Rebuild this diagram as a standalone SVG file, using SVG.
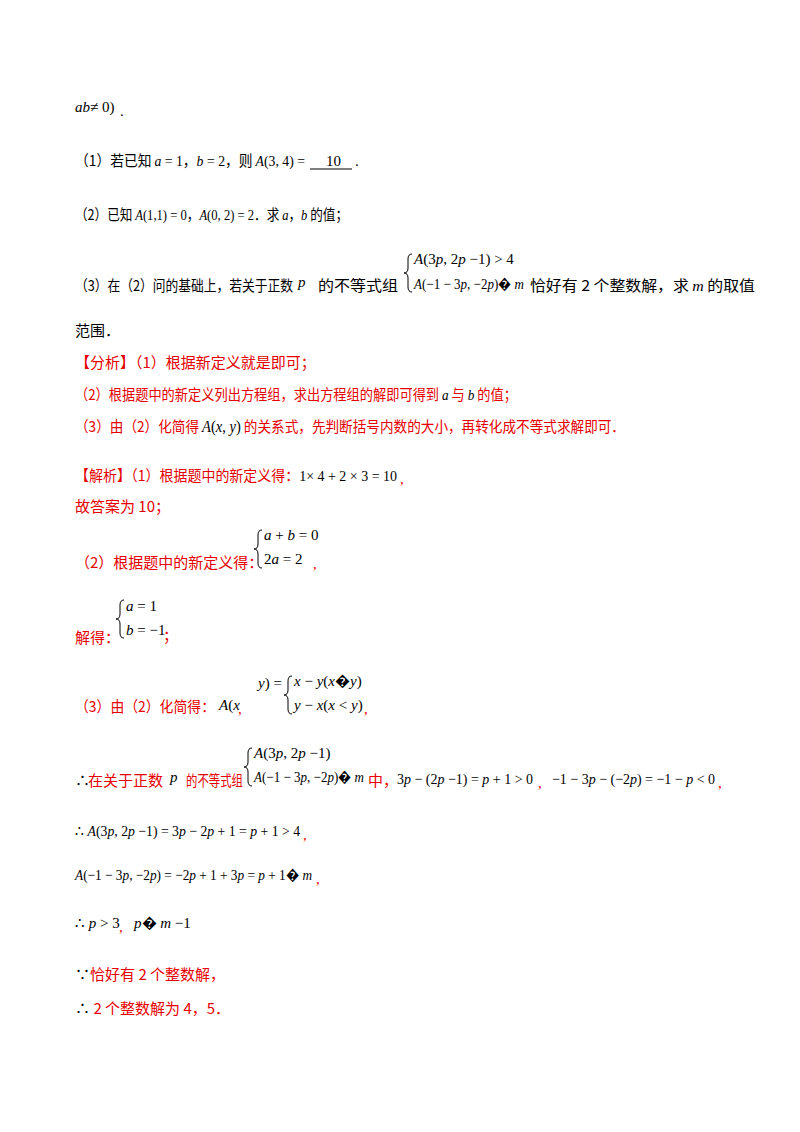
<svg xmlns="http://www.w3.org/2000/svg" width="800" height="1132" viewBox="0 0 800 1132">
<style>
text{font-family:"Liberation Serif","Noto Sans CJK SC",serif;font-size:15px;fill:#000}
.c{font-family:"Noto Sans CJK SC","Liberation Serif",sans-serif;font-size:15px}
.r{fill:#e60000}
.m{font-family:"Liberation Serif",serif;font-style:italic;font-size:15px}
.n{font-style:normal}
.k{fill:#000}
</style>
<defs>
<path id="br" d="M4 0 q-4 0 -4 5 v9 q0 5 -4 5 q4 0 4 5 v9 q0 5 4 5" fill="none" stroke="#000"/>
</defs>
<rect width="800" height="1132" fill="#fff"/>
<text x="75" y="112" class="m">ab<tspan class="n">≠ 0)</tspan></text><text x="120" y="116">.</text>

<text x="75" y="166" class="c" textLength="230" lengthAdjust="spacingAndGlyphs">（1）若已知 <tspan class="m">a</tspan><tspan class="m n"> = 1</tspan>，<tspan class="m">b</tspan><tspan class="m n"> = 2</tspan>，则 <tspan class="m">A</tspan><tspan class="m n">(3, 4) =</tspan></text>
<text x="326" y="166">10</text><line x1="310" y1="169" x2="352" y2="169" stroke="#000"/><text x="355" y="166">.</text>

<text x="75" y="220" class="c" textLength="273" lengthAdjust="spacingAndGlyphs">（2）已知 <tspan class="m">A</tspan><tspan class="m n">(1,1) = 0</tspan>，<tspan class="m">A</tspan><tspan class="m n">(0, 2) = 2</tspan>．求 <tspan class="m">a</tspan>，<tspan class="m">b</tspan> 的值；</text>

<text x="75" y="291" class="c" textLength="218" lengthAdjust="spacingAndGlyphs">（3）在（2）问的基础上，若关于正数</text>
<text x="298" y="287" class="m">p</text>
<text x="318" y="291" class="c" textLength="80" lengthAdjust="spacingAndGlyphs">的不等式组</text>
<use href="#br" x="408" y="254"/>
<text x="414" y="264" class="m">A<tspan class="n">(3</tspan>p<tspan class="n">, 2</tspan>p<tspan class="n"> −1) &gt; 4</tspan></text>
<text x="414" y="289" class="m" textLength="110" lengthAdjust="spacingAndGlyphs">A<tspan class="n">(−1 − 3</tspan>p<tspan class="n">, −2</tspan>p<tspan class="n">)�</tspan> m</text>
<text x="530" y="291" class="c" textLength="225" lengthAdjust="spacingAndGlyphs">恰好有 2 个整数解，求 <tspan class="m">m</tspan> 的取值</text>
<text x="75" y="336" class="c">范围．</text>

<text x="75" y="368" class="c r">【分析】（1）根据新定义就是即可；</text>
<text x="75" y="400" class="c r" textLength="442" lengthAdjust="spacingAndGlyphs">（2）根据题中的新定义列出方程组，求出方程组的解即可得到 <tspan class="m k">a</tspan> 与 <tspan class="m k">b</tspan> 的值；</text>
<text x="75" y="432" class="c r" textLength="550" lengthAdjust="spacingAndGlyphs">（3）由（2）化简得 <tspan class="m k" style="font-size:16px">A<tspan class="n">(</tspan>x<tspan class="n">, </tspan>y<tspan class="n">)</tspan></tspan> 的关系式，先判断括号内数的大小，再转化成不等式求解即可．</text>

<text x="75" y="481" class="c r" textLength="322" lengthAdjust="spacingAndGlyphs">【解析】（1）根据题中的新定义得：<tspan class="m n k">1× 4 + 2 × 3 = 10</tspan></text><text x="400" y="484" class="r">,</text>
<text x="75" y="512" class="c r">故答案为 10；</text>

<text x="75" y="568" class="c r">（2）根据题中的新定义得：</text>
<use href="#br" x="258" y="530"/>
<text x="264" y="540" class="m">a<tspan class="n"> + </tspan>b<tspan class="n"> = 0</tspan></text>
<text x="264" y="564" class="m n">2<tspan class="m">a</tspan> = 2</text>
<text x="313" y="569" class="r">,</text>

<text x="75" y="643" class="c r">解得：</text>
<use href="#br" x="120" y="600"/>
<text x="126" y="611" class="m">a<tspan class="n"> = 1</tspan></text>
<text x="126" y="635" class="m">b<tspan class="n"> = −1</tspan></text>
<text x="163" y="641" class="c r">；</text>

<text x="75" y="712" class="c r" textLength="140" lengthAdjust="spacingAndGlyphs">（3）由（2）化简得：</text>
<text x="219" y="710" class="m">A<tspan class="n">(</tspan>x</text><text x="238" y="714" class="r">,</text>
<text x="258" y="688" class="m">y<tspan class="n">) =</tspan></text>
<use href="#br" x="288" y="676"/>
<text x="294" y="686" class="m">x<tspan class="n"> − </tspan>y<tspan class="n">(</tspan>x<tspan class="n">�</tspan>y<tspan class="n">)</tspan></text>
<text x="294" y="710" class="m">y<tspan class="n"> − </tspan>x<tspan class="n">(</tspan>x<tspan class="n"> &lt; </tspan>y<tspan class="n">)</tspan></text>
<text x="364" y="714" class="r">,</text>

<text x="75" y="786">∴</text>
<text x="88" y="786" class="c r" textLength="75" lengthAdjust="spacingAndGlyphs">在关于正数</text>
<text x="170" y="782" class="m">p</text>
<text x="186" y="786" class="c r" textLength="57" lengthAdjust="spacingAndGlyphs">的不等式组</text>
<use href="#br" x="248" y="748"/>
<text x="254" y="758" class="m">A<tspan class="n">(3</tspan>p<tspan class="n">, 2</tspan>p<tspan class="n"> −1)</tspan></text>
<text x="254" y="782" class="m" textLength="110" lengthAdjust="spacingAndGlyphs">A<tspan class="n">(−1 − 3</tspan>p<tspan class="n">, −2</tspan>p<tspan class="n">)�</tspan> m</text>
<text x="368" y="786" class="c r">中，</text>
<text x="397" y="784" class="m n" textLength="136" lengthAdjust="spacingAndGlyphs">3<tspan class="m">p</tspan> − (2<tspan class="m">p</tspan> −1) = <tspan class="m">p</tspan> + 1 &gt; 0</text>
<text x="538" y="788" class="r">,</text>
<text x="552" y="784" class="m n" textLength="163" lengthAdjust="spacingAndGlyphs">−1 − 3<tspan class="m">p</tspan> − (−2<tspan class="m">p</tspan>) = −1 − <tspan class="m">p</tspan> &lt; 0</text>
<text x="718" y="788" class="r">,</text>

<text x="75" y="836" class="m n" textLength="225" lengthAdjust="spacingAndGlyphs">∴ <tspan class="m">A</tspan>(3<tspan class="m">p</tspan>, 2<tspan class="m">p</tspan> −1) = 3<tspan class="m">p</tspan> − 2<tspan class="m">p</tspan> + 1 = <tspan class="m">p</tspan> + 1 &gt; 4</text><text x="303" y="840" class="r">,</text>
<text x="75" y="880" class="m" textLength="237" lengthAdjust="spacingAndGlyphs">A<tspan class="n">(−1 − 3</tspan>p<tspan class="n">, −2</tspan>p<tspan class="n">) = −2</tspan>p<tspan class="n"> + 1 + 3</tspan>p<tspan class="n"> = </tspan>p<tspan class="n"> + 1�</tspan> m</text><text x="316" y="884" class="r">,</text>
<text x="75" y="928" class="m n">∴ <tspan class="m">p</tspan> &gt; 3</text><text x="119" y="932" class="r">,</text>
<text x="134" y="928" class="m">p<tspan class="n">�</tspan> m<tspan class="n"> −1</tspan></text>
<text x="75" y="980" class="c r"><tspan class="k">∵</tspan>恰好有 2 个整数解，</text>
<text x="75" y="1014" class="c r"><tspan class="k">∴</tspan> 2 个整数解为 4，5．</text>
</svg>
